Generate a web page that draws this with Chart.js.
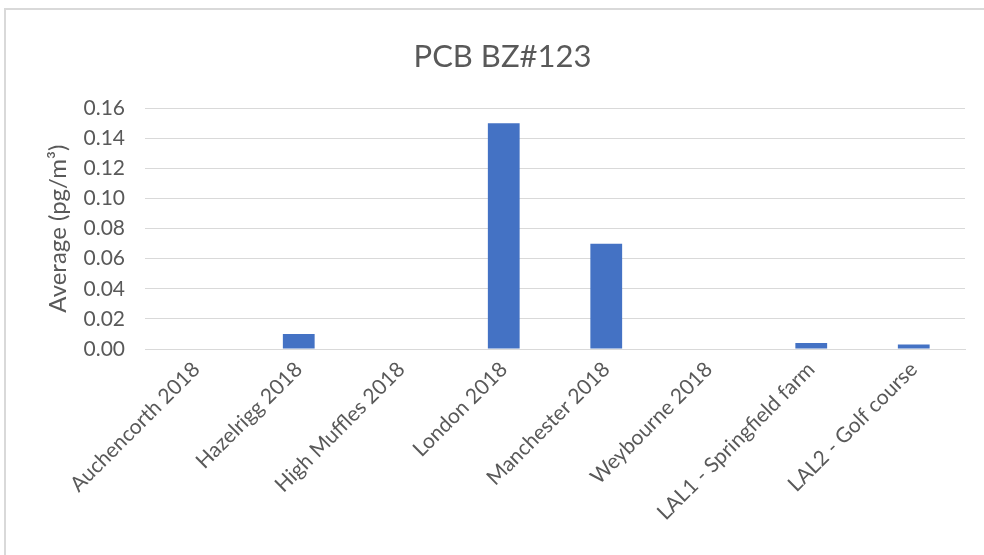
<!DOCTYPE html>
<html>
<head>
<meta charset="utf-8">
<script src="https://cdn.jsdelivr.net/npm/chart.js@4"></script>
<style>
html,body{margin:0;padding:0;background:#fff;}
#wrap{position:relative;width:984px;height:555px;}
</style>
</head>
<body>
<div id="wrap"><canvas id="c" width="984" height="555"></canvas></div>
<script>
const categories = ["Auchencorth 2018","Hazelrigg 2018","High Muffles 2018","London 2018","Manchester 2018","Weybourne 2018","LAL1 - Springfield farm","LAL2 - Golf course"];
const values = [0, 0.01, 0, 0.15, 0.07, 0, 0.004, 0.003];
const yTicks = [0,0.02,0.04,0.06,0.08,0.10,0.12,0.14,0.16];
const titleText = "PCB BZ#123";
const yTitle = "Average (pg/m\u00B3)";

const borderPlugin = {
  id:'border',
  beforeDraw(chart){
    const ctx = chart.ctx;
    ctx.save();
    ctx.fillStyle='#fff';
    ctx.fillRect(0,0,chart.width,chart.height);
    ctx.strokeStyle='#d9d9d9';
    ctx.lineWidth=2;
    ctx.strokeRect(5,9,chart.width+20,chart.height+20);
    ctx.restore();
  }
};

new Chart(document.getElementById('c'), {
  type:'bar',
  data:{labels:categories, datasets:[{data:values, backgroundColor:'#4472c4', categoryPercentage:1, barPercentage:0.31}]},
  options:{
    responsive:false, animation:false,
    layout:{padding:{left:40,right:19,top:38,bottom:0}},
    plugins:{
      legend:{display:false},
      tooltip:{enabled:false},
      title:{display:true,text:titleText,color:'#595959',font:{family:'Lato',size:31,weight:'normal'},padding:{top:0,bottom:33}}
    },
    scales:{
      x:{
        grid:{display:false, drawTicks:false},
        border:{display:true,color:'#d9d9d9',width:1},
        ticks:{color:'#595959',font:{family:'Lato',size:21},maxRotation:45,minRotation:45,padding:8},
        afterFit(s){s.height=206;}
      },
      y:{
        min:0,max:0.16,
        afterBuildTicks(s){s.ticks=yTicks.map(v=>({value:v}));},
        grid:{color:'#d9d9d9',drawTicks:false},
        border:{display:false},
        ticks:{color:'#595959',font:{family:'Lato',size:21},padding:20,callback:v=>v.toFixed(2)},
        title:{display:true,text:yTitle,color:'#595959',font:{family:'Lato',size:24},padding:{top:4,bottom:4}},
        afterFit(s){s.width=105;}
      }
    }
  },
  plugins:[borderPlugin]
});
</script>
</body>
</html>
